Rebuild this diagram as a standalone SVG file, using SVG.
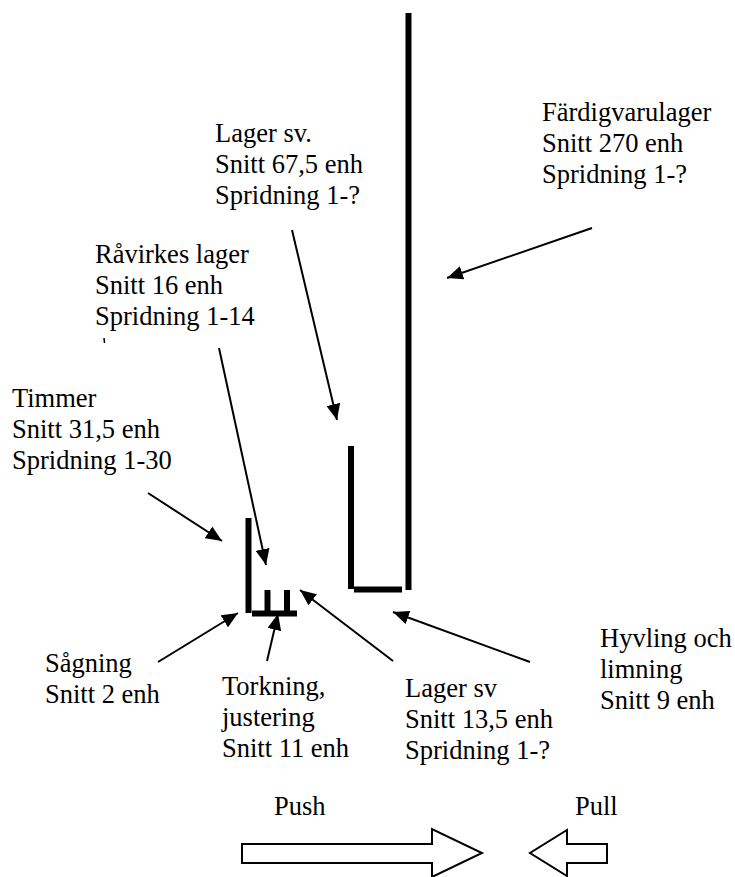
<svg xmlns="http://www.w3.org/2000/svg" width="735" height="877" viewBox="0 0 735 877">
<defs>
<marker id="ah" markerUnits="userSpaceOnUse" markerWidth="18" markerHeight="14" refX="16" refY="7" orient="auto">
<path d="M0,0 L16,7 L0,14 Z" fill="#000"/>
</marker>
<style>
.t text{font-size:26.5px;fill:#000}
.bar{stroke:#000;stroke-width:6;fill:none;stroke-linecap:butt}
.conn line{stroke:#000;stroke-width:2;marker-end:url(#ah)}
.big{fill:#fff;stroke:#000;stroke-width:2}
</style>
</defs>
<rect width="735" height="877" fill="#fff"/>
<g id="bars">
<line class="bar" x1="408.5" y1="13" x2="408.5" y2="590"/>
<line class="bar" x1="351" y1="446" x2="351" y2="589"/>
<line class="bar" x1="354" y1="589.5" x2="402" y2="589.5"/>
<line class="bar" x1="248.5" y1="518" x2="248.5" y2="613"/>
<line class="bar" x1="252" y1="613.5" x2="297" y2="613.5"/>
<line class="bar" x1="267.5" y1="590" x2="267.5" y2="611"/>
<line class="bar" x1="287" y1="590" x2="287" y2="611"/>
<line x1="104" y1="338" x2="104.5" y2="343" stroke="#000" stroke-width="1.5"/>
</g>
<g id="connectors" class="conn">
<line x1="148" y1="493" x2="222" y2="541"/>
<line x1="219" y1="348" x2="266" y2="565"/>
<line x1="292" y1="230" x2="337" y2="420"/>
<line x1="592" y1="228" x2="447" y2="278"/>
<line x1="158" y1="662" x2="238" y2="613"/>
<line x1="267" y1="661" x2="278" y2="614"/>
<line x1="393" y1="661" x2="300" y2="590"/>
<line x1="530" y1="662" x2="393" y2="612"/>
</g>
<g class="t" font-family="Liberation Serif, Times New Roman, Times, DejaVu Serif, serif">
<g id="lager-sv-top"><text x="215" y="142">Lager sv.</text><text x="215" y="173">Snitt 67,5 enh</text><text x="215" y="204">Spridning 1-?</text></g>
<g id="fardigvarulager"><text x="542" y="121">Färdigvarulager</text><text x="542" y="152">Snitt 270 enh</text><text x="542" y="183">Spridning 1-?</text></g>
<g id="ravirkes"><text x="95" y="263">Råvirkes lager</text><text x="95" y="294">Snitt 16 enh</text><text x="95" y="325">Spridning 1-14</text></g>
<g id="timmer"><text x="12" y="407">Timmer</text><text x="12" y="438">Snitt 31,5 enh</text><text x="12" y="469">Spridning 1-30</text></g>
<g id="sagning"><text x="45" y="672">Sågning</text><text x="45" y="703">Snitt 2 enh</text></g>
<g id="torkning"><text x="222" y="695">Torkning,</text><text x="222" y="726">justering</text><text x="222" y="757">Snitt 11 enh</text></g>
<g id="lager-sv"><text x="405" y="697">Lager sv</text><text x="405" y="728">Snitt 13,5 enh</text><text x="405" y="759">Spridning 1-?</text></g>
<g id="hyvling"><text x="600" y="647">Hyvling och</text><text x="600" y="678">limning</text><text x="600" y="709">Snitt 9 enh</text></g>
<g id="push"><text x="274" y="815">Push</text></g>
<g id="pull"><text x="575" y="815">Pull</text></g>
</g>
<polygon class="big" points="242,844 432,844 432,829 482,853 432,877 432,863 242,863"/>
<polygon class="big" points="607,844 567,844 567,830 530,853 567,876 567,863 607,863"/>
</svg>
